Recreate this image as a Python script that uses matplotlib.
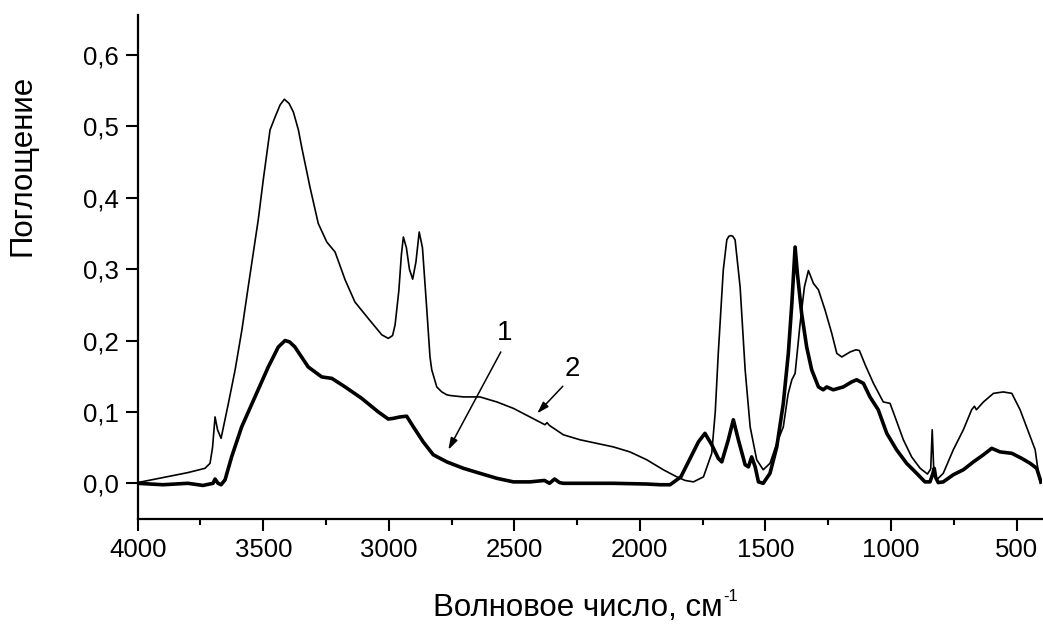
import matplotlib
matplotlib.use("Agg")
import matplotlib.pyplot as plt
from matplotlib.ticker import MultipleLocator, FuncFormatter

plt.rcParams['font.family'] = ['Liberation Sans', 'DejaVu Sans']

# Curve 1 (thick)
wn1 = [4000, 3900, 3800, 3740, 3700, 3692, 3680, 3668, 3652, 3626, 3586, 3533, 3480, 3440, 3413,
       3395, 3374, 3321, 3267, 3227, 3174, 3108, 3042, 3002, 2982, 2955, 2929, 2902, 2863, 2823,
       2769, 2703, 2637, 2570, 2504, 2438, 2380, 2360, 2340, 2320, 2305, 2239, 2106, 1973, 1919,
       1880, 1837, 1797, 1767, 1741, 1714, 1688, 1674, 1648, 1628, 1608, 1581, 1568, 1555, 1541,
       1528, 1509, 1482, 1455, 1429, 1409, 1395, 1382, 1373, 1356, 1336, 1316, 1289, 1270, 1256,
       1230, 1190, 1157, 1137, 1110, 1084, 1051, 1017, 978, 938, 898, 865, 845, 835, 828, 822,
       812, 792, 752, 712, 672, 632, 599, 566, 519, 480, 446, 420, 403]
abs1 = [0.0, -0.002, 0.0, -0.003, 0.0, 0.006, 0.0, -0.002, 0.005, 0.037, 0.079, 0.121, 0.163, 0.191, 0.200,
        0.198, 0.191, 0.163, 0.149, 0.147, 0.135, 0.119, 0.100, 0.090, 0.091, 0.093, 0.094, 0.079, 0.058, 0.040,
        0.030, 0.021, 0.014, 0.007, 0.002, 0.002, 0.004, 0.0, 0.006, 0.001, 0.0, 0.0, 0.0, -0.001, -0.002,
        -0.002, 0.009, 0.037, 0.058, 0.070, 0.054, 0.035, 0.030, 0.061, 0.089, 0.061, 0.026, 0.023, 0.037, 0.023,
        0.002, 0.0, 0.014, 0.051, 0.112, 0.182, 0.252, 0.331, 0.294, 0.238, 0.191, 0.159, 0.135, 0.131, 0.135,
        0.131, 0.135, 0.142, 0.145, 0.140, 0.121, 0.103, 0.070, 0.047, 0.028, 0.014, 0.002, 0.002, 0.012, 0.021, 0.008,
        0.001, 0.002, 0.012, 0.019, 0.030, 0.040, 0.049, 0.044, 0.042, 0.035, 0.028, 0.021, 0.002]

# Curve 2 (thin)
wn2 = [4000, 3900, 3800, 3732, 3712, 3702, 3692, 3682, 3668, 3640, 3612, 3585, 3560, 3520, 3500,
       3473, 3453, 3433, 3416, 3397, 3380, 3360, 3347, 3314, 3281, 3247, 3214, 3174, 3135, 3082,
       3028, 3002, 2985, 2975, 2960, 2950, 2942, 2930, 2918, 2905, 2892, 2879, 2866, 2850, 2836,
       2829, 2809, 2789, 2769, 2756, 2703, 2637, 2570, 2504, 2438, 2378, 2370, 2360, 2305, 2239,
       2172, 2106, 2040, 1973, 1907, 1853, 1820, 1787, 1747, 1714, 1700, 1688, 1668, 1654, 1646,
       1638, 1630, 1621, 1601, 1581, 1561, 1535, 1509, 1482, 1455, 1429, 1410, 1395, 1382, 1362,
       1345, 1329, 1309, 1289, 1263, 1236, 1216, 1196, 1163, 1140, 1126, 1103, 1070, 1031, 1004,
       984, 951, 918, 884, 855, 842, 836, 830, 818, 792, 752, 712, 679, 668, 660,
       632, 592, 553, 519, 486, 453, 426, 413, 405]
abs2 = [0.001, 0.008, 0.015, 0.021, 0.028, 0.050, 0.093, 0.075, 0.063, 0.110, 0.159, 0.215, 0.275, 0.369, 0.425,
        0.495, 0.513, 0.530, 0.538, 0.532, 0.520, 0.495, 0.471, 0.415, 0.364, 0.338, 0.324, 0.285, 0.254, 0.231,
        0.208, 0.203, 0.207, 0.222, 0.270, 0.320, 0.345, 0.330, 0.300, 0.286, 0.310, 0.352, 0.330, 0.250, 0.177,
        0.159, 0.135, 0.128, 0.124, 0.123, 0.121, 0.121, 0.114, 0.105, 0.093, 0.082, 0.085, 0.081, 0.068, 0.061,
        0.056, 0.051, 0.044, 0.033, 0.019, 0.009, 0.004, 0.002, 0.009, 0.042, 0.100, 0.182, 0.299, 0.341, 0.346,
        0.347, 0.346, 0.341, 0.275, 0.159, 0.079, 0.033, 0.019, 0.028, 0.056, 0.079, 0.125, 0.145, 0.154, 0.224,
        0.275, 0.298, 0.280, 0.271, 0.243, 0.210, 0.182, 0.177, 0.184, 0.187, 0.186, 0.166, 0.140, 0.114, 0.112,
        0.093, 0.061, 0.037, 0.021, 0.013, 0.020, 0.075, 0.020, 0.005, 0.014, 0.047, 0.075, 0.103, 0.108, 0.103,
        0.114, 0.126, 0.128, 0.126, 0.103, 0.072, 0.047, 0.014, 0.0]

yticks = [0.0, 0.1, 0.2, 0.3, 0.4, 0.5, 0.6]
xticks = [4000, 3500, 3000, 2500, 2000, 1500, 1000, 500]

W, H = 1043, 624
fig = plt.figure(figsize=(W / 100, H / 100), dpi=100)
ax = fig.add_axes([137.7 / W, 105 / H, (1041.7 - 137.7) / W, (519 - 15) / H])

ax.plot(wn2, abs2, color='black', lw=1.2, solid_joinstyle='round')
ax.plot(wn1, abs1, color='black', lw=2.6, solid_joinstyle='round')

ax.set_xlim(4000, 400)
ax.set_ylim(-0.05, 0.656)

for s in ['top', 'right']:
    ax.spines[s].set_visible(False)
for s in ['left', 'bottom']:
    ax.spines[s].set_linewidth(1.6)

ax.set_xticks(xticks)
ax.xaxis.set_minor_locator(MultipleLocator(250))
ax.set_yticks(yticks)
ax.yaxis.set_major_formatter(FuncFormatter(lambda v, p: f"{v:.1f}".replace('.', ',')))
ax.tick_params(axis='both', which='major', direction='out', length=8.5, width=1.5,
               labelsize=18.5, pad=5)
ax.tick_params(axis='x', which='minor', direction='out', length=4.5, width=1.5)

# annotations
ax.annotate('', xy=(2763, 0.047), xytext=(2554, 0.184),
            arrowprops=dict(arrowstyle='-|>,head_length=0.7,head_width=0.22', color='black', lw=1.1,
                            shrinkA=0, shrinkB=0))
ax.text(2537, 0.2105, '1', fontsize=20, ha='center', va='center')
ax.annotate('', xy=(2409, 0.098), xytext=(2307, 0.136),
            arrowprops=dict(arrowstyle='-|>,head_length=0.7,head_width=0.22', color='black', lw=1.1,
                            shrinkA=0, shrinkB=0))
ax.text(2268, 0.160, '2', fontsize=20, ha='center', va='center')

fig.text(23 / W, 1 - 165 / H, 'Поглощение', rotation=90, fontsize=22.5,
         ha='center', va='center')

# x label with small superscript "-1"
xl = fig.text(433 / W, 1 - 616 / H, 'Волновое число, см', fontsize=22.5,
              ha='left', va='baseline')
fig.canvas.draw()
bb = xl.get_window_extent(renderer=fig.canvas.get_renderer())
fig.text((bb.x1 + 1) / W, 1 - 601 / H, '-1', fontsize=12, ha='left', va='baseline')

fig.savefig('out.png', dpi=100, facecolor='white')
